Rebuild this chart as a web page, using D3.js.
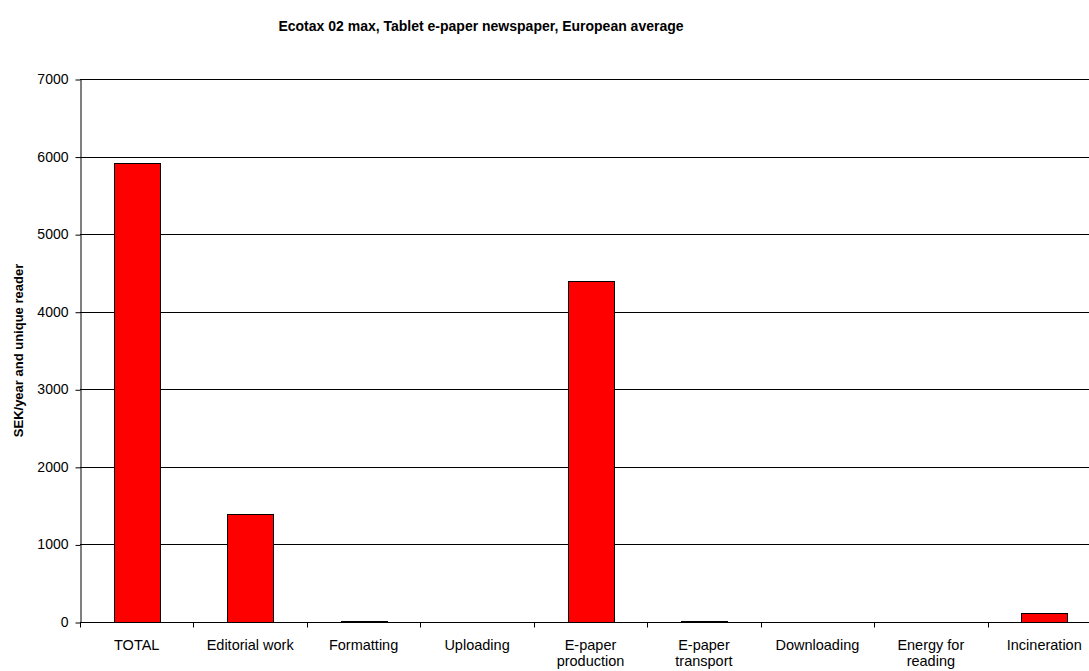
<!DOCTYPE html>
<html><head><meta charset="utf-8">
<script src="https://cdn.jsdelivr.net/npm/d3@7"></script>
<style>body{margin:0;background:#fff;}svg{display:block;font-family:"Liberation Sans",Arial,sans-serif;}</style>
</head><body>
<svg id="c" width="1089" height="671"></svg>
<script>
const categories = ["TOTAL","Editorial work","Formatting","Uploading","E-paper production","E-paper transport","Downloading","Energy for reading","Incineration"];
const labelLines = [["TOTAL"],["Editorial work"],["Formatting"],["Uploading"],["E-paper","production"],["E-paper","transport"],["Downloading"],["Energy for","reading"],["Incineration"]];
const values = [5915, 1390, 12, 2, 4400, 12, 2, 2, 110];
const yTicks = [0,1000,2000,3000,4000,5000,6000,7000];
const title = "Ecotax 02 max, Tablet e-paper newspaper, European average";
const yTitle = "SEK/year and unique reader";

const svg = d3.select("#c");
const L = 80, R = 1101, T = 79, B = 622;
const x = d3.scaleBand().domain(categories).range([L, R]).paddingInner(0).paddingOuter(0);
const y = d3.scaleLinear().domain([0, 7000]).range([B, T]);

// gridlines
svg.append("g").selectAll("line").data(yTicks.filter(d=>d>0)).join("line")
  .attr("x1", L).attr("x2", R)
  .attr("y1", d=>Math.round(y(d))+0.5).attr("y2", d=>Math.round(y(d))+0.5)
  .attr("stroke", "#000").attr("stroke-width", 1);

// bars
const bw = x.bandwidth()*0.405;
svg.append("g").selectAll("rect").data(values).join("rect")
  .attr("x", (d,i)=>Math.round(x(categories[i]) + x.bandwidth()/2 - bw/2)+0.5)
  .attr("width", Math.round(bw))
  .attr("y", d=>Math.round(y(d))+0.5)
  .attr("height", d=>Math.max(0, Math.round(B - y(d))))
  .attr("fill", "#ff0000").attr("stroke", "#000").attr("stroke-width", 1);

// y axis
const ya = svg.append("g").attr("transform", `translate(${L+0.5},0)`)
  .call(d3.axisLeft(y).tickValues(yTicks).tickSize(5).tickPadding(7).tickSizeOuter(0).tickFormat(d3.format("d")));
ya.selectAll("path,line").attr("stroke","#000");
ya.selectAll("text").attr("font-size", 14).attr("fill","#000").attr("font-family","Liberation Sans, Arial, sans-serif");
ya.selectAll(".tick line").attr("transform","translate(0,0.5)");

// x axis
const xa = svg.append("g").attr("transform", `translate(0,${B+0.5})`);
xa.append("line").attr("x1", L).attr("x2", R).attr("stroke","#000");
const bounds = categories.map(c=>x(c)).concat([R]);
xa.selectAll("line.t").data(bounds).join("line").attr("class","t")
  .attr("x1", d=>Math.round(d)+0.5).attr("x2", d=>Math.round(d)+0.5)
  .attr("y1", 0).attr("y2", 5).attr("stroke","#000");
const lab = svg.append("g");
categories.forEach((c,i)=>{
  const t = lab.append("text").attr("x", x(c)+x.bandwidth()/2).attr("y", 650)
    .attr("text-anchor","middle").attr("font-size",14.5).attr("fill","#000");
  labelLines[i].forEach((ln,j)=>t.append("tspan").attr("x", x(c)+x.bandwidth()/2).attr("dy", j===0?0:15.5).text(ln));
});

// title
svg.append("text").attr("x", 481).attr("y", 31).attr("text-anchor","middle")
  .attr("font-size", 14).attr("font-weight","bold").text(title);
// y title
svg.append("text").attr("transform", `translate(23,${(T+B)/2}) rotate(-90)`)
  .attr("text-anchor","middle").attr("font-size", 13).attr("font-weight","bold").text(yTitle);
</script>
</body></html>
